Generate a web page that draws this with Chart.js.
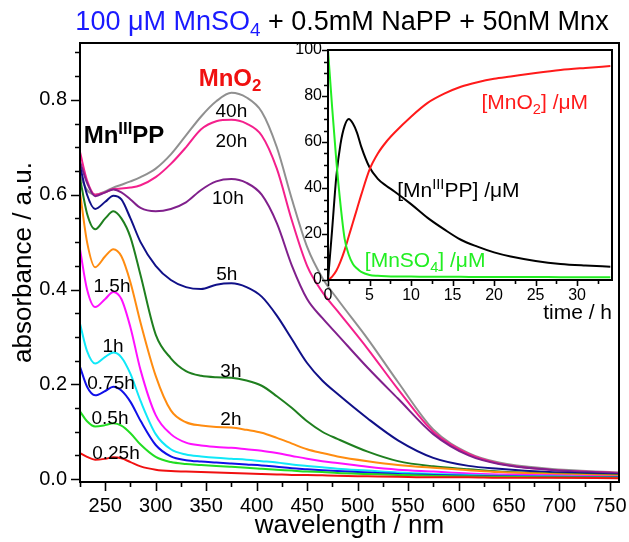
<!DOCTYPE html>
<html>
<head>
<meta charset="utf-8">
<script src="https://cdn.jsdelivr.net/npm/chart.js@4.4.0/dist/chart.umd.min.js"></script>
<style>
  html, body { margin: 0; padding: 0; background: #fff; }
  #wrap { position: relative; width: 629px; height: 542px; }
  #main { position: absolute; left: 0; top: 0; }
  #inset { position: absolute; left: 280px; top: 40px; }
</style>
</head>
<body>
<div id="wrap">
  <canvas id="main" width="629" height="542"></canvas>
  <canvas id="inset" width="345" height="290"></canvas>
</div>
<script>
    "use strict";

    // spectra: wavelength (nm) shared by every curve
    const wavelengths = [225, 232, 240, 250, 258, 266, 275, 285, 300, 315, 330, 345, 360, 375, 390, 405, 420, 435, 450, 465, 480, 510, 540, 575, 610, 640, 690, 759];
    const hours = ['0.25h', '0.5h', '0.75h', '1h', '1.5h', '2h', '3h', '5h', '10h', '20h', '40h'];

    // absorbance for each reaction time
    const a025h = [.055, .047, .041, .043, .046, .044, .036, .027, .020, .017, .016, .015, .014, .013, .012, .011, .010, .009, .009, .008, .007, .006, .005, .004, .004, .003, .003, .002];
    const a05h = [.143, .122, .111, .114, .118, .113, .097, .073, .047, .036, .032, .030, .028, .026, .024, .022, .020, .018, .016, .015, .013, .011, .009, .007, .006, .005, .004, .003];
    const a075h = [.237, .195, .177, .186, .195, .187, .163, .123, .072, .048, .040, .037, .035, .033, .031, .029, .026, .023, .021, .019, .017, .014, .011, .009, .007, .006, .005, .004];
    const a1h = [.328, .270, .244, .258, .267, .257, .222, .165, .095, .063, .052, .048, .045, .043, .041, .038, .035, .031, .028, .025, .022, .018, .014, .011, .009, .007, .006, .004];
    const a15h = [.485, .400, .363, .380, .395, .380, .320, .230, .135, .095, .077, .071, .068, .066, .063, .060, .055, .049, .043, .038, .034, .026, .020, .016, .012, .010, .008, .005];
    const a2h = [.605, .500, .447, .470, .485, .470, .415, .330, .218, .145, .120, .113, .110, .109, .104, .098, .087, .075, .063, .055, .048, .038, .030, .024, .019, .015, .011, .007];
    const a3h = [.635, .560, .527, .550, .565, .550, .510, .430, .305, .255, .228, .218, .215, .214, .208, .197, .175, .150, .122, .100, .085, .058, .038, .027, .021, .016, .012, .008];
    const a5h = [.660, .600, .570, .585, .598, .590, .550, .500, .450, .420, .405, .401, .410, .413, .405, .385, .345, .295, .245, .208, .180, .128, .082, .045, .028, .022, .015, .010];
    const a10h = [.670, .625, .597, .605, .611, .605, .590, .572, .565, .570, .584, .610, .628, .633, .625, .600, .540, .450, .380, .340, .305, .235, .170, .095, .050, .032, .020, .012];
    const a20h = [.690, .630, .600, .605, .612, .613, .615, .620, .637, .665, .700, .738, .755, .758, .750, .725, .655, .545, .450, .395, .355, .275, .190, .100, .053, .033, .020, .013];
    const a40h = [.640, .610, .600, .607, .615, .621, .628, .637, .655, .685, .725, .765, .797, .815, .805, .775, .700, .590, .490, .425, .380, .296, .205, .105, .055, .035, .022, .014];
    const spectra = [a025h, a05h, a075h, a1h, a15h, a2h, a3h, a5h, a10h, a20h, a40h];

    const xTicks = [250, 300, 350, 400, 450, 500, 550, 600, 650, 700, 750];
    const yTicks = [0, 0.2, 0.4, 0.6, 0.8];

    // inset: concentrations (uM) vs time (h)
    const timeH = [0, 0.5, 1, 1.5, 2, 2.5, 3, 3.5, 4, 5, 6, 7, 8, 10, 12, 14, 16, 18, 20, 22, 25, 28, 31, 34];
    const mnSO4 = [100, 75, 52, 33, 18, 11, 7, 5, 3.5, 2.2, 1.8, 1.6, 1.5, 1.5, 1.4, 1.4, 1.4, 1.3, 1.3, 1.3, 1.3, 1.2, 1.2, 1.2];
    const mnIIIPP = [0, 22, 45, 59, 67, 70, 68, 64, 58, 49, 44, 41, 38.5, 33, 27, 22, 17.5, 14.5, 12, 10.2, 8.3, 7, 6.3, 5.8];
    const mnO2 = [0, 1.5, 4, 8, 13, 19, 25, 31, 37, 48, 55, 60, 64, 71, 77, 81, 84, 86, 87.5, 88.5, 90, 91.3, 92.2, 93];

    const tTicks = [0, 5, 10, 15, 20, 25, 30];
    const cTicks = [0, 20, 40, 60, 80, 100];

    const colors = ['#f01010', '#22dd22', '#1010e8', '#10e8f8', '#ff10ff', '#ff8c10', '#1f7f1f', '#101088', '#80208c', '#f4208c', '#909090'];

    const FONT = 'Liberation Sans, Arial, sans-serif';
    Chart.defaults.font.family = FONT;
    Chart.defaults.color = '#000';

    // text with sub/superscripts, y is the baseline
    function drawRich(ctx, x, y, parts, size, weight, color, align) {
        let w = 0;
        const items = parts.map(function (p) {
            const s = (p.sub || p.sup) ? size * 0.7 : size;
            ctx.font = weight + ' ' + s + 'px ' + FONT;
            const pw = ctx.measureText(p.t).width;
            w += pw;
            return {t: p.t, sub: p.sub, sup: p.sup, color: p.color, s: s, pw: pw};
        });
        let cx = align === 'center' ? x - w / 2 : (align === 'right' ? x - w : x);
        ctx.textAlign = 'left';
        ctx.textBaseline = 'alphabetic';
        items.forEach(function (it) {
            ctx.font = weight + ' ' + it.s + 'px ' + FONT;
            ctx.fillStyle = it.color || color;
            const dy = it.sub ? size * 0.22 : (it.sup ? -size * 0.38 : 0);
            ctx.fillText(it.t, cx, y + dy);
            cx += it.pw;
        });
    }

    function tickValues(min, max, step) {
        const out = [];
        for (let i = Math.ceil(min / step - 1e-9); i * step <= max + 1e-9; i++) out.push(i * step);
        return out;
    }

    // box around the plot + outward major/minor ticks
    function framePlugin(o) {
        return {
            id: 'frame',
            beforeDatasetsDraw(chart) {
                if (!o.fill) return;
                const a = chart.chartArea;
                chart.ctx.save();
                chart.ctx.fillStyle = '#fff';
                chart.ctx.fillRect(a.left, a.top, a.right - a.left, a.bottom - a.top);
                chart.ctx.restore();
            },
            afterDatasetsDraw(chart) {
                const ctx = chart.ctx, a = chart.chartArea, x = chart.scales.x, y = chart.scales.y;
                ctx.save();
                ctx.strokeStyle = '#000';
                ctx.lineWidth = 2;
                ctx.strokeRect(a.left, a.top, a.right - a.left, a.bottom - a.top);
                ctx.lineWidth = 1.6;
                ctx.beginPath();
                tickValues(x.min, x.max, o.xMinor).forEach(function (v) {
                    const px = Math.round(x.getPixelForValue(v)) + 0.5;
                    const major = Math.abs(v / o.xMajor - Math.round(v / o.xMajor)) < 1e-6;
                    ctx.moveTo(px, a.bottom);
                    ctx.lineTo(px, a.bottom + (major ? o.major : o.minor));
                });
                tickValues(Math.max(y.min, 0), y.max, o.yMinor).forEach(function (v) {
                    const py = Math.round(y.getPixelForValue(v)) + 0.5;
                    const major = Math.abs(v / o.yMajor - Math.round(v / o.yMajor)) < 1e-6;
                    ctx.moveTo(a.left, py);
                    ctx.lineTo(a.left - (major ? o.major : o.minor), py);
                });
                ctx.stroke();
                ctx.restore();
            }
        };
    }

    // fixed axis boxes, no extra room for overhanging labels
    function fixX(h) {
        return function (s) { s.height = h; s.paddingLeft = 0; s.paddingRight = 0; };
    }
    function fixY(w) {
        return function (s) { s.width = w; s.paddingTop = 0; s.paddingBottom = 0; };
    }

    // ---- main spectra chart ----
    const spectrumLabels = [
        {text: '40h', x: 375, y: 0.779}, {text: '20h', x: 375, y: 0.715}, {text: '10h', x: 371.5, y: 0.595},
        {text: '5h', x: 370.5, y: 0.435}, {text: '3h', x: 374.5, y: 0.23}, {text: '2h', x: 374.5, y: 0.129},
        {text: '1.5h', x: 256.7, y: 0.409}, {text: '1h', x: 257.7, y: 0.283}, {text: '0.75h', x: 255.7, y: 0.205},
        {text: '0.5h', x: 254.7, y: 0.131}, {text: '0.25h', x: 260.6, y: 0.057}
    ];

    const mainText = {
        id: 'mainText',
        afterDraw(chart) {
            const ctx = chart.ctx, x = chart.scales.x, y = chart.scales.y;
            ctx.save();
            drawRich(ctx, 342, 30, [
                {t: '100 \u03bcM MnSO', color: '#1a1aff'}, {t: '4', sub: true, color: '#1a1aff'},
                {t: ' + 0.5mM NaPP + 50nM Mnx'}
            ], 27, 'normal', '#000', 'center');
            spectrumLabels.forEach(function (l) {
                drawRich(ctx, x.getPixelForValue(l.x), y.getPixelForValue(l.y) + 7, [{t: l.text}], 19, 'normal', '#000', 'center');
            });
            drawRich(ctx, x.getPixelForValue(373.6), y.getPixelForValue(0.846) + 8,
                [{t: 'MnO'}, {t: '2', sub: true}], 24, 'bold', '#f01010', 'center');
            drawRich(ctx, x.getPixelForValue(268.6), y.getPixelForValue(0.726) + 8,
                [{t: 'Mn'}, {t: 'III', sup: true}, {t: 'PP'}], 24, 'bold', '#000', 'center');
            ctx.restore();
        }
    };

    new Chart(document.getElementById('main'), {
        type: 'line',
        data: {
            datasets: hours.map(function (h, i) {
                return {
                    label: h,
                    data: wavelengths.map(function (w, j) { return {x: w, y: spectra[i][j]}; }),
                    borderColor: colors[i],
                    borderWidth: 2,
                    pointRadius: 0,
                    cubicInterpolationMode: 'monotone'
                };
            })
        },
        options: {
            responsive: false,
            animation: false,
            layout: {padding: {left: 0, top: 43, right: 10, bottom: 0}},
            plugins: {legend: {display: false}, tooltip: {enabled: false}},
            scales: {
                x: {
                    type: 'linear', min: 225, max: 759,
                    afterBuildTicks: function (s) { s.ticks = xTicks.map(function (v) { return {value: v}; }); },
                    afterFit: fixX(60),
                    grid: {display: false, drawTicks: false},
                    border: {display: false},
                    ticks: {padding: 12, font: {size: 20}, maxRotation: 0, autoSkip: false},
                    title: {display: true, text: 'wavelength / nm', font: {size: 26}, padding: {top: 0, bottom: 1}}
                },
                y: {
                    type: 'linear', min: -0.006, max: 0.92,
                    afterBuildTicks: function (s) { s.ticks = yTicks.map(function (v) { return {value: v}; }); },
                    afterFit: fixY(80),
                    grid: {display: false, drawTicks: false},
                    border: {display: false},
                    ticks: {padding: 13, font: {size: 20}, callback: function (v) { return v.toFixed(1); }},
                    title: {display: true, text: 'absorbance / a.u.', font: {size: 26}, padding: {top: 8, bottom: 0}}
                }
            }
        },
        plugins: [framePlugin({xMinor: 25, xMajor: 50, yMinor: 0.05, yMajor: 0.2, major: 9, minor: 5}), mainText]
    });

    // ---- inset: kinetics ----
    const insetText = {
        id: 'insetText',
        afterDraw(chart) {
            const ctx = chart.ctx, x = chart.scales.x, y = chart.scales.y;
            ctx.save();
            drawRich(ctx, x.getPixelForValue(24.9), y.getPixelForValue(77.4) + 7,
                [{t: '[MnO'}, {t: '2', sub: true}, {t: '] /\u03bcM'}], 21, 'normal', '#ff1a1a', 'center');
            drawRich(ctx, x.getPixelForValue(15.7), y.getPixelForValue(39) + 7,
                [{t: '[Mn'}, {t: 'III', sup: true}, {t: 'PP] /\u03bcM'}], 21, 'normal', '#000', 'center');
            drawRich(ctx, x.getPixelForValue(11.7), y.getPixelForValue(8.7) + 7,
                [{t: '[MnSO'}, {t: '4', sub: true}, {t: '] /\u03bcM'}], 21, 'normal', '#22ee22', 'center');
            ctx.restore();
        }
    };

    function series(values) {
        return timeH.map(function (t, i) { return {x: t, y: values[i]}; });
    }

    new Chart(document.getElementById('inset'), {
        type: 'line',
        data: {
            datasets: [
                {label: 'MnSO4', data: series(mnSO4), borderColor: '#22ee22', borderWidth: 2, pointRadius: 0, cubicInterpolationMode: 'monotone'},
                {label: 'MnO2', data: series(mnO2), borderColor: '#ff1a1a', borderWidth: 2, pointRadius: 0, cubicInterpolationMode: 'monotone'},
                {label: 'MnIIIPP', data: series(mnIIIPP), borderColor: '#000', borderWidth: 2, pointRadius: 0, cubicInterpolationMode: 'monotone'}
            ]
        },
        options: {
            responsive: false,
            animation: false,
            layout: {padding: {left: 0, top: 10, right: 13, bottom: 0}},
            plugins: {legend: {display: false}, tooltip: {enabled: false}},
            scales: {
                x: {
                    type: 'linear', min: 0, max: 34.2,
                    afterBuildTicks: function (s) { s.ticks = tTicks.map(function (v) { return {value: v}; }); },
                    afterFit: fixX(50),
                    grid: {display: false, drawTicks: false},
                    border: {display: false},
                    ticks: {padding: 6, font: {size: 16}, maxRotation: 0, autoSkip: false},
                    title: {display: true, text: 'time / h', align: 'end', font: {size: 21}, padding: {top: 0, bottom: 4}}
                },
                y: {
                    type: 'linear', min: 0, max: 100,
                    afterBuildTicks: function (s) { s.ticks = cTicks.map(function (v) { return {value: v}; }); },
                    afterFit: fixY(48),
                    grid: {display: false, drawTicks: false},
                    border: {display: false},
                    ticks: {padding: 6, font: {size: 16}}
                }
            }
        },
        plugins: [framePlugin({fill: true, xMinor: 2.5, xMajor: 5, yMinor: 5, yMajor: 20, major: 6, minor: 4}), insetText]
    });
</script>
</body>
</html>
